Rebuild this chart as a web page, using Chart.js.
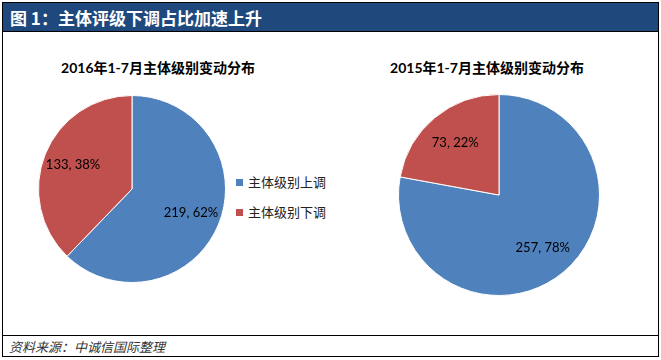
<!DOCTYPE html>
<html>
<head>
<meta charset="utf-8">
<script src="https://cdn.jsdelivr.net/npm/chart.js@4.4.0/dist/chart.umd.min.js"></script>
<style>
    html, body { margin: 0; padding: 0; background: #fff; }
    body { width: 661px; height: 360px; position: relative; overflow: hidden; }
    #frame {
        position: absolute; left: 2px; top: 2px; width: 655px; height: 353px;
        border: 1px solid #000;
    }
    #titlebar {
        position: absolute; left: 0; top: 0; width: 655px; height: 29px;
        background: #1F497D; border-bottom: 1px solid #000;
        color: #fff; font: bold 17px "Noto Sans CJK SC", sans-serif;
        line-height: 29px; padding-left: 7px; box-sizing: border-box;
    }
    #sourcebar {
        position: absolute; left: 0; top: 332px; width: 655px; height: 21px;
        border-top: 1px solid #000;
        color: #333; font: italic 13px "Noto Sans CJK SC", sans-serif;
        line-height: 21px; padding-left: 6px; box-sizing: border-box;
    }
    .ctitle {
        position: absolute; top: 57px; width: 260px; text-align: center;
        font: bold 14px Lato, "Noto Sans CJK SC", sans-serif; color: #000;
    }
    canvas { position: absolute; }
    #legend { position: absolute; left: 236px; top: 172px; }
    .item {
        font: 13px "Noto Sans CJK SC", sans-serif; color: #222;
        height: 20px; line-height: 20px; margin-bottom: 10px; white-space: nowrap;
    }
    .box { display: inline-block; width: 7px; height: 7px; margin-right: 5px; vertical-align: 1px; }
</style>
</head>
<body>
<div id="frame">
    <div id="titlebar">图 1：主体评级下调占比加速上升</div>
    <div id="sourcebar">资料来源：中诚信国际整理</div>
</div>
<div class="ctitle" id="t1" style="left:28px"></div>
<div class="ctitle" id="t2" style="left:357px"></div>
<canvas id="pie2016" width="188" height="188" style="left:38px; top:95px"></canvas>
<canvas id="pie2015" width="202" height="202" style="left:398px; top:94px"></canvas>
<div id="legend"></div>

<script>
    const categories = ["主体级别上调", "主体级别下调"];
    const titles = ["2016年1-7月主体级别变动分布", "2015年1-7月主体级别变动分布"];
    const values2016 = [219, 133];
    const values2015 = [257, 73];
    const colors = ["#4F81BD", "#C0504D"];

    document.getElementById('t1').textContent = titles[0];
    document.getElementById('t2').textContent = titles[1];

    const legend = document.getElementById('legend');
    categories.forEach((name, i) => {
        const item = document.createElement('div');
        item.className = 'item';
        item.innerHTML = `<span class="box" style="background:${colors[i]}"></span>${name}`;
        legend.appendChild(item);
    });

    // value + percent labels inside the slices
    const sliceLabels = {
        id: 'sliceLabels',
        afterDatasetsDraw(chart) {
            const ctx = chart.ctx;
            const data = chart.data.datasets[0].data;
            const total = data.reduce((a, b) => a + b, 0);
            const arcs = chart.getDatasetMeta(0).data;
            ctx.save();
            ctx.font = '13px Lato, sans-serif';
            ctx.fillStyle = '#000';
            ctx.textAlign = 'center';
            ctx.textBaseline = 'middle';
            arcs.forEach((arc, i) => {
                const mid = (arc.startAngle + arc.endAngle) / 2;
                const r = arc.outerRadius * 0.68;
                const x = arc.x + Math.cos(mid) * r;
                const y = arc.y + Math.sin(mid) * r;
                ctx.fillText(`${data[i]}, ${Math.round(data[i] / total * 100)}%`, x, y);
            });
            ctx.restore();
        }
    };

    function makePie(id, values) {
        return new Chart(document.getElementById(id).getContext('2d'), {
            type: 'pie',
            data: {
                labels: categories,
                datasets: [{
                    data: values,
                    backgroundColor: colors,
                    borderColor: '#ffffff',
                    borderWidth: 1
                }]
            },
            options: {
                responsive: false,
                animation: false,
                layout: { padding: 0 },
                plugins: {
                    legend: { display: false },
                    tooltip: { enabled: false }
                }
            },
            plugins: [sliceLabels]
        });
    }

    makePie('pie2016', values2016);
    makePie('pie2015', values2015);
</script>
</body>
</html>
